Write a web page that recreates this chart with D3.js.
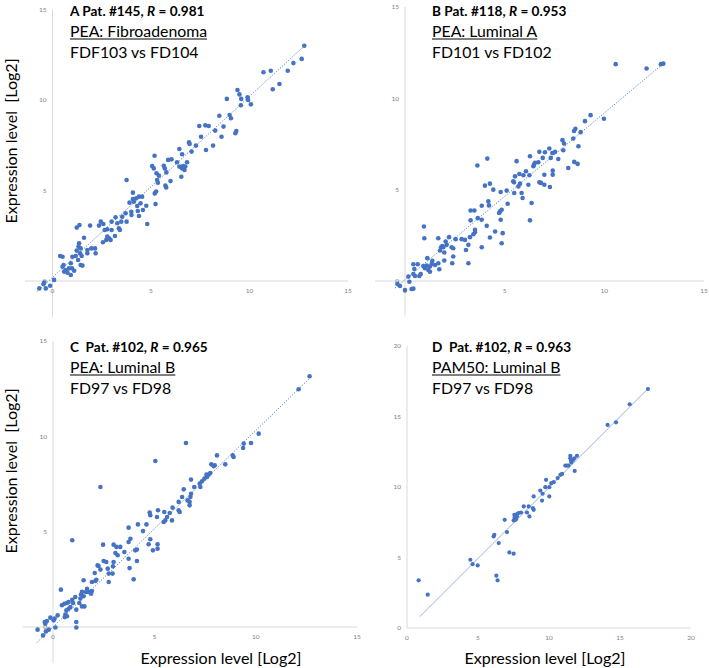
<!DOCTYPE html>
<html><head><meta charset="utf-8">
<script src="https://cdn.jsdelivr.net/npm/d3@7"></script>
<style>body{margin:0;background:#fff}svg{display:block}text{font-family:Lato,'Open Sans',sans-serif}</style>
</head><body><svg id="c" width="709" height="668"></svg>
<script>
// ---------- data ----------
const panelLetters = ["A", "B", "C", "D"];
const patients = ["#145", "#118", "#102", "#102"];
const rValues = ["0.981", "0.953", "0.965", "0.963"];
const subtypes = ["PEA: Fibroadenoma", "PEA: Luminal A", "PEA: Luminal B", "PAM50: Luminal B"];
const comparisons = ["FDF103 vs FD104", "FD101 vs FD102", "FD97 vs FD98", "FD97 vs FD98"];
const ticks15 = [0, 5, 10, 15];
const ticks20 = [0, 5, 10, 15, 20];
const axisTitle = "Expression level [Log2]";
const axisTitleY = "Expression level\u00A0 [Log2]";
// trendlines: [xStart, xEnd, slope, intercept]
const trendA = [-0.8, 12.8, 1.0, 0.2];
const trendB = [-0.5, 13.0, 0.913, 0.07];
const trendC = [-0.8, 12.7, 1.03, 0.0];
const trendD = [0.9, 16.9, 1.006, -0.1];

const pointsA = [[12.78,13.0],[12.65,12.27],[12.23,12.04],[11.94,11.62],[11.52,10.88],[11.08,11.62],[10.71,11.53],[11.18,10.59],[9.39,10.55],[9.49,10.31],[9.58,10.06],[9.90,10.15],[9.93,10.0],[9.56,9.71],[10.07,9.76],[8.85,10.06],[8.47,9.13],[8.99,9.17],[9.06,8.99],[8.68,8.53],[8.58,7.97],[9.33,8.29],[9.28,8.16],[8.26,8.31],[7.45,8.56],[7.76,8.60],[7.93,8.56],[7.54,7.97],[7.28,7.48],[7.79,7.24],[8.15,7.48],[6.93,7.66],[6.96,7.57],[7.06,7.15],[6.44,7.29],[6.58,7.0],[6.32,6.56],[6.44,6.32],[6.58,6.22],[6.70,6.13],[6.63,6.35],[6.83,6.56],[6.54,5.76],[6.74,6.32],[6.04,6.72],[5.87,6.69],[5.65,6.37],[5.70,6.22],[5.78,6.0],[5.99,5.52],[5.73,5.27],[5.77,5.17],[5.18,6.92],[5.06,6.35],[5.14,6.22],[5.28,5.95],[5.40,5.82],[5.31,5.58],[5.35,5.43],[5.26,4.94],[5.19,4.84],[5.23,4.25],[4.76,4.16],[4.81,3.15],[4.55,4.66],[4.39,4.66],[4.47,4.29],[4.59,3.92],[4.25,4.57],[4.08,4.53],[4.13,4.38],[4.30,4.14],[4.33,3.87],[4.39,3.59],[4.00,3.83],[4.08,4.88],[3.91,4.33],[4.01,3.65],[3.76,5.58],[3.71,3.74],[3.76,3.28],[3.54,3.55],[3.49,3.28],[3.29,3.19],[3.37,2.91],[3.42,2.82],[3.20,3.52],[3.00,3.28],[3.00,2.82],[3.17,2.49],[2.95,2.27],[2.73,2.27],[2.87,2.36],[2.78,2.45],[2.65,2.82],[2.45,3.28],[2.58,3.15],[2.36,3.06],[2.78,2.86],[2.56,2.14],[1.91,3.06],[2.16,1.80],[2.19,1.53],[1.97,1.80],[1.77,1.71],[1.77,1.53],[1.60,2.39],[1.37,3.09],[1.23,2.95],[1.35,2.08],[1.32,1.90],[1.43,1.80],[1.40,1.53],[1.23,1.68],[1.48,1.38],[1.18,1.38],[1.30,1.16],[1.43,0.88],[1.01,1.34],[0.93,0.98],[0.84,0.70],[0.99,0.70],[0.76,0.46],[0.93,0.33],[0.67,0.61],[0.56,0.88],[0.51,0.79],[0.39,1.38],[0.51,1.34],[0.59,0.52],[0.08,0.06],[-0.42,-0.09],[-0.46,-0.17],[-0.12,-0.26],[-0.34,-0.41],[-0.67,-0.41],[1.10,0.57],[1.52,0.85]];

const pointsB = [[10.57,11.87],[12.12,11.63],[12.84,11.87],[12.96,11.90],[9.31,9.08],[9.03,8.75],[9.98,8.88],[8.55,8.33],[8.48,8.21],[8.81,8.15],[8.44,7.80],[8.70,7.38],[7.90,7.71],[7.98,7.53],[7.94,7.16],[8.49,6.52],[8.66,6.41],[8.19,6.19],[7.69,6.68],[7.53,7.07],[7.39,7.01],[7.24,7.25],[7.31,6.74],[7.02,7.05],[6.74,7.07],[6.91,6.74],[6.69,6.50],[6.52,6.47],[6.44,6.28],[6.47,6.37],[6.27,6.83],[6.07,6.01],[5.94,5.79],[6.24,5.79],[6.99,5.82],[6.99,5.27],[6.82,5.37],[6.74,5.40],[7.27,5.15],[7.41,6.04],[7.41,5.82],[5.60,6.56],[5.52,5.73],[5.74,5.86],[5.77,5.33],[5.69,5.18],[5.47,5.40],[5.43,5.46],[5.48,4.82],[5.90,4.54],[5.85,4.82],[6.19,5.27],[6.35,4.27],[6.27,3.32],[5.15,4.23],[5.10,4.95],[4.80,4.87],[4.85,3.90],[4.77,3.81],[4.72,3.72],[4.80,3.35],[4.90,2.62],[4.85,2.07],[4.52,2.71],[4.43,5.0],[4.26,5.33],[4.01,5.22],[4.13,6.70],[3.63,6.32],[4.18,4.36],[4.21,4.14],[3.85,4.12],[4.26,2.38],[4.10,3.02],[3.85,1.85],[3.85,3.35],[3.65,3.44],[3.48,3.86],[3.29,3.86],[3.29,3.32],[3.51,2.80],[3.51,2.67],[3.43,2.56],[3.26,2.40],[3.18,1.98],[3.01,2.25],[3.06,1.70],[2.84,2.29],[3.18,0.97],[2.54,2.29],[2.42,1.79],[2.34,1.85],[2.42,1.34],[2.37,0.97],[2.21,2.40],[2.09,1.98],[2.04,2.16],[1.97,1.56],[1.92,1.85],[1.87,1.92],[1.81,1.85],[1.76,1.67],[1.97,1.12],[1.67,2.34],[1.67,0.97],[1.72,0.64],[1.51,0.88],[1.37,1.10],[1.34,0.93],[1.25,0.79],[1.12,1.25],[1.09,0.84],[1.0,0.70],[1.17,0.60],[1.25,0.51],[0.95,2.98],[0.97,2.34],[0.92,0.82],[0.72,0.27],[0.79,0.38],[0.64,0.92],[0.47,0.66],[0.42,0.92],[0.42,0.38],[0.50,0.27],[0.17,0.24],[0.22,-0.04],[0.33,-0.44],[0.42,-0.42],[0.0,-0.49],[-0.25,-0.27],[-0.38,-0.16]];

const pointsC = [[12.66,13.15],[12.12,12.47],[10.15,10.14],[9.77,9.65],[9.41,9.62],[9.38,9.39],[8.91,8.92],[8.87,9.0],[8.50,8.53],[8.09,9.0],[7.98,8.48],[7.81,8.53],[7.93,8.43],[7.76,8.08],[7.68,7.99],[7.57,7.99],[7.60,7.87],[7.47,7.78],[7.35,7.64],[7.24,7.52],[7.27,7.34],[6.97,7.34],[6.81,7.73],[6.78,6.82],[6.74,6.56],[6.74,6.38],[6.64,6.64],[6.81,6.99],[6.56,9.65],[6.45,7.22],[6.37,6.82],[6.20,6.12],[6.20,6.56],[6.25,6.03],[5.90,6.26],[5.87,5.59],[5.76,5.98],[5.63,5.77],[5.49,6.03],[5.54,5.59],[5.46,5.51],[5.18,6.12],[5.13,5.77],[5.05,8.71],[4.77,6.0],[4.80,5.86],[4.61,5.38],[4.44,5.03],[4.19,5.38],[5.16,4.34],[5.16,4.11],[4.93,4.02],[4.80,4.60],[4.72,4.34],[4.14,4.06],[4.06,4.02],[4.14,3.46],[3.98,2.50],[3.82,4.63],[3.73,5.21],[3.73,4.46],[3.78,3.09],[3.73,3.58],[3.52,3.93],[3.32,4.20],[3.19,3.76],[3.13,4.20],[3.08,3.88],[2.99,4.32],[2.99,3.41],[2.96,3.18],[2.94,2.80],[2.75,2.80],[2.75,2.36],[2.70,3.06],[2.63,3.41],[2.50,3.46],[2.47,4.32],[2.34,7.34],[2.34,3.01],[2.25,3.20],[2.20,3.23],[2.14,2.48],[2.09,2.41],[2.06,2.83],[1.92,2.36],[1.92,1.89],[1.88,1.75],[1.76,1.84],[1.68,2.01],[1.63,1.84],[1.51,2.45],[1.51,1.61],[1.43,1.84],[1.38,1.70],[1.35,1.49],[1.30,1.26],[1.43,1.08],[1.55,1.08],[0.95,4.55],[0.95,1.43],[1.10,1.57],[0.99,1.26],[0.86,1.05],[0.77,1.31],[0.69,1.26],[0.77,0.96],[0.66,0.87],[0.61,0.65],[0.56,1.22],[0.44,1.14],[0.39,1.96],[0.69,0.56],[0.58,0.52],[1.15,0.91],[1.15,0.26],[1.15,-0.03],[0.23,0.61],[0.08,0.44],[0.03,0.35],[-0.13,0.49],[-0.30,0.31],[-0.38,0.17],[-0.41,0.26],[-0.21,-0.14],[0.12,-0.03],[-0.35,-0.23],[-0.49,-0.44],[-0.76,-0.14]];

const pointsD = [[16.97,16.95],[15.68,15.87],[14.72,14.59],[14.13,14.40],[11.97,12.21],[11.78,12.04],[11.69,11.92],[11.55,11.88],[11.50,12.21],[11.50,12.04],[11.57,11.74],[11.27,11.52],[11.15,11.52],[11.38,11.52],[11.81,11.14],[10.92,10.93],[10.80,10.86],[10.61,10.63],[10.33,10.34],[10.16,10.27],[9.79,10.51],[9.74,9.99],[10.02,9.99],[10.02,9.33],[9.55,9.52],[9.39,9.75],[9.51,9.04],[8.92,9.33],[8.87,8.50],[8.92,8.38],[8.57,8.62],[8.45,8.19],[8.62,7.91],[8.22,8.62],[8.03,8.19],[7.86,8.15],[7.75,8.08],[7.56,8.03],[7.58,7.84],[7.68,7.72],[7.75,7.91],[7.51,7.63],[7.63,7.67],[6.88,7.67],[7.04,6.80],[6.15,6.61],[6.10,6.49],[6.46,6.02],[7.21,5.36],[7.51,5.27],[4.46,4.84],[4.62,4.53],[4.98,4.44],[6.29,3.71],[6.38,3.38],[0.82,3.38],[1.46,2.36]];

// ---------- layout ----------
const panels = [
  {pts: pointsA, trend: trendA, ticks: ticks15, dom: 15, xr: [52.5, 348], yr: [281, 9.5], xmin: -1.4, ymin: -2.0, tx: 70, ty: [16, 36.5, 58], yTitle: {x: 17, y: 141}, dotted: true, r: 2.3},
  {pts: pointsB, trend: trendB, ticks: ticks15, dom: 15, xr: [405, 704], yr: [281, 7], xmin: -1.5, ymin: -1.9, tx: 432, ty: [16, 36.5, 58], dotted: true, r: 2.3},
  {pts: pointsC, trend: trendC, ticks: ticks15, dom: 15, xr: [53, 357], yr: [627, 341], xmin: -1.5, ymin: -1.9, tx: 70, ty: [351.5, 372.5, 394], yTitle: {x: 17, y: 471}, xTitle: {x: 221, y: 664}, dotted: true, r: 2.3},
  {pts: pointsD, trend: trendD, ticks: ticks20, dom: 20, xr: [407, 691], yr: [628, 346], xmin: 0, ymin: 0, tx: 432, ty: [351.5, 372.5, 394], xTitle: {x: 545, y: 664}, dotted: false, r: 2.1}
];

const svg = d3.select("#c");
const blue = "#4472C4";
const fsBold = 13.4, fsReg = 15.4, fsAxis = 15.6;

// measure natural widths to emulate a narrower (Calibri-like) face
function measure(str, fs, bold) {
  const t = svg.append("text").attr("font-size", fs).attr("font-weight", bold ? "bold" : "normal").text(str);
  const w = t.node().getComputedTextLength();
  t.remove();
  return w;
}
const sBold = 135 / measure("A Pat. #145, R = 0.981", fsBold, true);
const sReg = 137 / measure(subtypes[0], fsReg, false);
const sAxis = 161 / measure(axisTitle, fsAxis, false);

panels.forEach((p, i) => {
  const x = d3.scaleLinear().domain([0, p.dom]).range(p.xr);
  const y = d3.scaleLinear().domain([0, p.dom]).range(p.yr);
  const g = svg.append("g");
  // axis lines
  g.append("line").attr("x1", x(p.xmin)).attr("x2", x(p.dom)).attr("y1", y(0)).attr("y2", y(0))
    .attr("stroke", "#d9d9d9").attr("stroke-width", 1);
  g.append("line").attr("x1", x(0)).attr("x2", x(0)).attr("y1", y(p.ymin)).attr("y2", y(p.dom))
    .attr("stroke", "#d9d9d9").attr("stroke-width", 1);
  // tick labels
  g.selectAll(".xt").data(p.ticks).enter().append("text")
    .attr("x", d => x(d)).attr("y", y(0) + 12).attr("text-anchor", "middle")
    .attr("font-size", 6.5).attr("fill", "#7f7f7f").text(d => d);
  g.selectAll(".yt").data(p.ticks).enter().append("text")
    .attr("x", x(0) - 6).attr("y", d => y(d) + 2.3).attr("text-anchor", "end")
    .attr("font-size", 6.5).attr("fill", "#7f7f7f").text(d => d);
  // trendline
  const t = p.trend;
  const tl = g.append("line")
    .attr("x1", x(t[0])).attr("y1", y(t[2] * t[0] + t[3]))
    .attr("x2", x(t[1])).attr("y2", y(t[2] * t[1] + t[3]));
  if (p.dotted) tl.attr("stroke", blue).attr("stroke-width", 0.9).attr("stroke-dasharray", "1.2,1.6");
  else tl.attr("stroke", "#7f9bd2").attr("stroke-width", 0.8);
  // points
  g.selectAll("circle").data(p.pts).enter().append("circle")
    .attr("cx", d => x(d[0])).attr("cy", d => y(d[1])).attr("r", p.r).attr("fill", blue);
  // titles
  const t1 = g.append("g").attr("transform", `translate(${p.tx},${p.ty[0]}) scale(${sBold},1)`)
    .append("text").attr("font-size", fsBold).attr("font-weight", "bold").attr("fill", "#000");
  t1.append("tspan").text(panelLetters[i] + (i >= 2 ? "\u00A0 " : " ") + "Pat. " + patients[i] + ", ");
  t1.append("tspan").attr("font-style", "italic").text("R");
  t1.append("tspan").text(" = " + rValues[i]);
  const t2 = g.append("g").attr("transform", `translate(${p.tx},${p.ty[1]}) scale(${sReg},1)`)
    .append("text").attr("font-size", fsReg).attr("fill", "#000").text(subtypes[i]);
  const w2 = t2.node().getComputedTextLength() * sReg;
  g.append("line").attr("x1", p.tx).attr("x2", p.tx + w2).attr("y1", p.ty[1] + 2.5).attr("y2", p.ty[1] + 2.5)
    .attr("stroke", "#000").attr("stroke-width", 1);
  g.append("g").attr("transform", `translate(${p.tx},${p.ty[2]}) scale(${sReg},1)`)
    .append("text").attr("font-size", fsReg).attr("fill", "#000").text(comparisons[i]);
  // axis titles
  if (p.yTitle) {
    g.append("g").attr("transform", `translate(${p.yTitle.x},${p.yTitle.y}) rotate(-90) scale(${sAxis},1)`)
      .append("text").attr("text-anchor", "middle").attr("font-size", fsAxis).attr("fill", "#000").text(axisTitleY);
  }
  if (p.xTitle) {
    g.append("g").attr("transform", `translate(${p.xTitle.x},${p.xTitle.y}) scale(${sAxis},1)`)
      .append("text").attr("text-anchor", "middle").attr("font-size", fsAxis).attr("fill", "#000").text(axisTitle);
  }
});
</script>
</body></html>
